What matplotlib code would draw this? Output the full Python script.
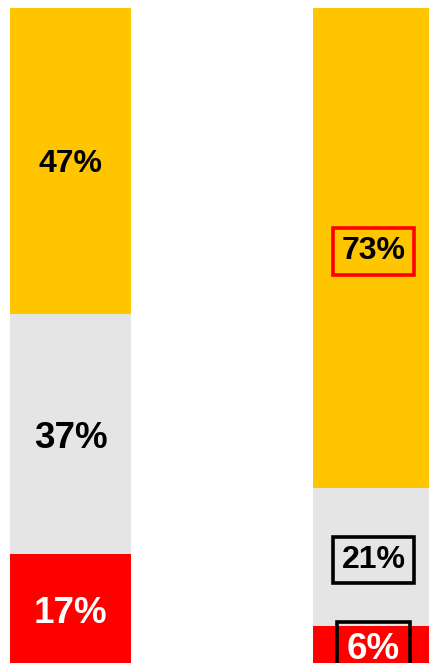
import matplotlib
matplotlib.use("Agg")
import matplotlib.pyplot as plt
import numpy as np

plt.rcParams['font.family'] = ['Liberation Sans', 'DejaVu Sans']

groups = ["A", "B"]
segments = ["bottom", "middle", "top"]
values = {
    "bottom": [17, 6],
    "middle": [37, 21],
    "top": [47, 73],
}
colors = {"bottom": "#FF0000", "middle": "#E5E5E5", "top": "#FFC600"}
text_colors = {"bottom": "white", "middle": "black", "top": "black"}
label_sizes = {
    "A": {"bottom": 26.5, "middle": 26.5, "top": 23},
    "B": {"bottom": 26.5, "middle": 23, "top": 23},
}
box_colors = {"B": {"bottom": "black", "middle": "black", "top": "#FF0000"}}

fig = plt.figure(figsize=(4.29, 6.63), dpi=100)
ax = fig.add_axes([0, -0.003, 1, 1 - 8 / 663 + 0.003])

x = np.arange(len(groups))
totals = np.sum([values[s] for s in segments], axis=0)
bottom = np.zeros(len(groups))
for s in segments:
    frac = np.array(values[s]) / totals
    ax.bar(x, frac, bottom=bottom, width=0.4, color=colors[s], edgecolor='none')
    for i, g in enumerate(groups):
        kw = {}
        if g in box_colors:
            kw['bbox'] = dict(boxstyle='square,pad=0.26', facecolor='none',
                              edgecolor=box_colors[g][s], linewidth=2.6)
        ax.text(x[i], bottom[i] + frac[i] / 2, f"{values[s][i]}%",
                ha='center', va='center_baseline', color=text_colors[s],
                fontsize=label_sizes[g][s], fontweight='bold', clip_on=False, **kw)
    bottom += frac

ax.set_xlim(-70.5 / 303, 1 + (429 - 373.5) / 303)
ax.set_ylim(0, 1)
ax.axis('off')
fig.savefig("out.png", dpi=100)
